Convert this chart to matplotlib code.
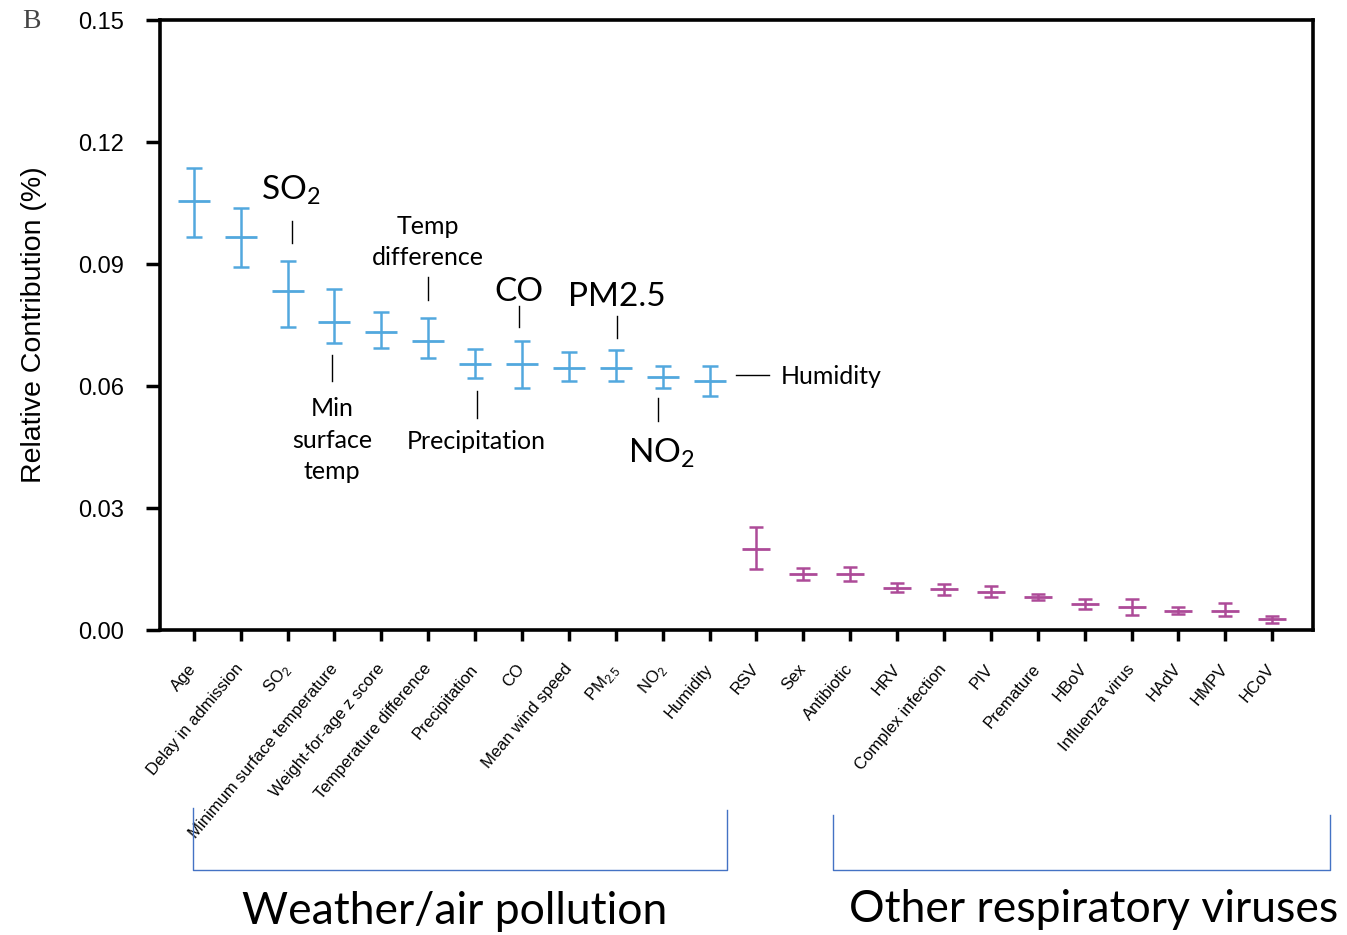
import matplotlib.pyplot as plt
import numpy as np
from matplotlib.lines import Line2D

# Relative contribution: mean and interval
factors = ['Age', 'Delay in admission', r'SO$_\mathregular{2}$',
           'Minimum surface temperature', 'Weight-for-age z score',
           'Temperature difference', 'Precipitation', 'CO', 'Mean wind speed',
           r'PM$_\mathregular{2.5}$', r'NO$_\mathregular{2}$', 'Humidity']
factor_mean = [0.1055, 0.0966, 0.0834, 0.0757, 0.0733, 0.0711,
               0.0654, 0.0654, 0.0644, 0.0644, 0.0622, 0.0612]
factor_low = [0.0966, 0.0893, 0.0745, 0.0706, 0.0693, 0.0669,
              0.0620, 0.0595, 0.0612, 0.0612, 0.0595, 0.0575]
factor_high = [0.1136, 0.1038, 0.0907, 0.0838, 0.0782, 0.0767,
               0.0691, 0.0711, 0.0684, 0.0688, 0.0649, 0.0649]

viruses = ['RSV', 'Sex', 'Antibiotic', 'HRV', 'Complex infection', 'PIV',
           'Premature', 'HBoV', 'Influenza virus', 'HAdV', 'HMPV', 'HCoV']
virus_mean = [0.0199, 0.0137, 0.0137, 0.0104, 0.0100, 0.0093,
              0.0081, 0.0063, 0.0056, 0.0047, 0.0046, 0.0026]
virus_low = [0.0150, 0.0123, 0.0120, 0.0093, 0.0086, 0.0081,
             0.0074, 0.0052, 0.0036, 0.0039, 0.0034, 0.0018]
virus_high = [0.0254, 0.0152, 0.0156, 0.0115, 0.0112, 0.0107,
              0.0089, 0.0077, 0.0077, 0.0056, 0.0066, 0.0034]

yticks = [0.00, 0.03, 0.06, 0.09, 0.12, 0.15]

BLUE = '#52a8de'
PURPLE = '#ad4b98'
ANNOT = ['Lato', 'DejaVu Sans']
AXFONT = ['Liberation Sans', 'DejaVu Sans']


def draw_group(ax, x, mean, low, high, color, cap, mw):
    mean = np.array(mean)
    err = [mean - np.array(low), np.array(high) - mean]
    ax.errorbar(x, mean, yerr=err, fmt='none', ecolor=color,
                elinewidth=1.8, capsize=cap, capthick=1.8)
    ax.plot(x, mean, ls='none', marker='_', ms=mw, mew=2, color=color)


fig = plt.figure(figsize=(13.47, 9.35), dpi=100)
ax = fig.add_axes([0.1188, 0.3262, 0.8560, 0.6524])

n1 = len(factors)
x1 = np.arange(n1)
x2 = np.arange(n1, n1 + len(viruses))
draw_group(ax, x1, factor_mean, factor_low, factor_high, BLUE, 6, 23)
draw_group(ax, x2, virus_mean, virus_low, virus_high, PURPLE, 5, 20)

ax.set_xlim(-0.72, 23.87)
ax.set_ylim(0, 0.15)
ax.set_yticks(yticks)
ax.set_yticklabels([f'{v:.2f}' for v in yticks], family=AXFONT, fontsize=17)
ax.set_xticks(np.concatenate([x1, x2]))
ax.set_xticklabels(factors + viruses, rotation=50, ha='right', va='center',
                   rotation_mode='anchor', family=AXFONT, fontsize=12)
ax.tick_params(axis='y', length=10, width=2.5, pad=16)
ax.tick_params(axis='x', length=8, width=2.5, pad=18)
for s in ax.spines.values():
    s.set_linewidth(2.6)
ax.set_ylabel('Relative Contribution (%)', family=AXFONT, fontsize=20.5,
              labelpad=22)

fig.text(0.023, 0.977, 'B', family='Liberation Serif', fontsize=20,
         va='center', ha='center', color='#444444')

# annotations (figure pixel positions converted to fractions)
W, H = 1347, 935


def ftext(px, py, s, size, **kw):
    fig.text(px / W, 1 - py / H, s, family=ANNOT, fontsize=size,
             ha=kw.pop('ha', 'center'), va='center', **kw)


def fline(xs, ys, color='black', lw=1.0):
    fig.add_artist(Line2D([x / W for x in xs], [1 - y / H for y in ys],
                          color=color, lw=lw, transform=fig.transFigure))


ftext(291, 190, r'SO$_\mathregular{2}$', 24)
fline([292, 292], [221, 243])
ftext(428, 242, 'Temp\ndifference', 18, linespacing=1.45)
fline([428, 428], [277, 300])
ftext(519, 292, 'CO', 24)
fline([519, 519], [306, 327])
ftext(617, 297, 'PM2.5', 24)
fline([617, 617], [316, 338])
ftext(332, 440, 'Min\nsurface\ntemp', 18, linespacing=1.45)
fline([332, 332], [355, 381])
ftext(476, 442, 'Precipitation', 18)
fline([477, 477], [391, 418])
ftext(661, 453, r'NO$_\mathregular{2}$', 24)
fline([658, 658], [398, 421])
ftext(781, 376, 'Humidity', 18, ha='left')
fline([736, 769], [375, 375])

# group brackets
BR = '#4472c4'
fline([193, 193, 727, 727], [808, 870, 870, 810], color=BR, lw=1.0)
fline([833, 833, 1330, 1330], [815, 870, 870, 815], color=BR, lw=1.0)
ftext(455, 912, 'Weather/air pollution', 32)
ftext(1094, 910, 'Other respiratory viruses', 32)

fig.savefig('out.png', dpi=100)
